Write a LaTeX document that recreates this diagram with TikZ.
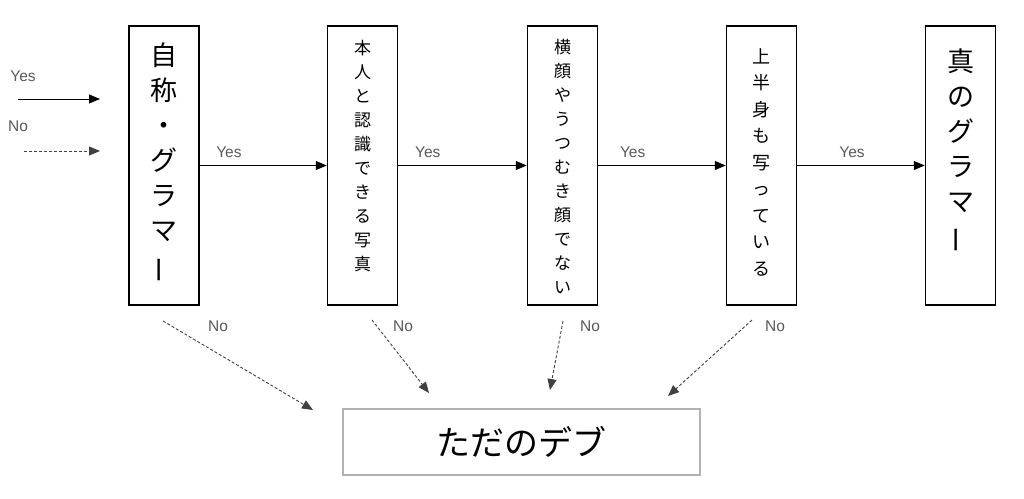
\documentclass[tikz,border=0pt]{standalone}
\usepackage{fontspec}
\setmainfont{Liberation Sans}
\newfontfamily\jp{Noto Sans CJK JP}
\usetikzlibrary{arrows.meta}
\newcommand\vbar{\rotatebox[origin=c]{90}{ー}}
\begin{document}
\begin{tikzpicture}[x=1pt,y=-1pt,
  stepbox/.style={draw=black, line width=1.5pt, minimum width=70pt, minimum height=279pt, inner sep=0pt},
  bigv/.style={align=center, inner sep=0pt, font=\jp\fontsize{27}{35}\selectfont},
  smallv/.style={align=center, inner sep=0pt, font=\jp\fontsize{17}{24}\selectfont},
  midv/.style={align=center, inner sep=0pt, font=\jp\fontsize{18}{26.5}\selectfont},
  lbl/.style={text=black!65, font=\fontsize{15.5}{17}\selectfont, inner sep=0pt},
  yesarrow/.style={draw=black, line width=0.9pt, -{Triangle[length=11pt,width=9pt]}},
  noarrow/.style={draw=black!75, line width=0.9pt, dash pattern=on 3pt off 2pt, -{Triangle[length=11pt,width=9pt]}},
  endbox/.style={draw=black!30, line width=1.5pt, minimum width=357pt, minimum height=66pt, inner sep=0pt}
]
\useasboundingbox (0,0) rectangle (1024,498);

% boxes
\node[stepbox] (b1) at (164,165.5) {};
\node[stepbox] (b2) at (362.5,165.5) {};
\node[stepbox] (b3) at (562.5,165.5) {};
\node[stepbox] (b4) at (761.5,165.5) {};
\node[stepbox] (b5) at (960.5,165.5) {};

% texts
\node[bigv] (t1) at (164,163) {自\\称\\・\\グ\\ラ\\マ\\\vbar};
\node[smallv] (t2) at (362.5,156) {本\\人\\と\\認\\識\\で\\き\\る\\写\\真};
\node[smallv] (t3) at (562.5,166) {横\\顔\\や\\う\\つ\\む\\き\\顔\\で\\な\\い};
\node[midv] (t4) at (761.5,162) {上\\半\\身\\も\\写\\っ\\て\\い\\る};
\node[bigv] (t5) at (960.5,151) {真\\の\\グ\\ラ\\マ\\\vbar};

% yes arrows
\draw[yesarrow] (b1.east) -- node[lbl, pos=0.23, above=7pt] (y1) {Yes} (b2.west);
\draw[yesarrow] (b2.east) -- node[lbl, pos=0.23, above=7pt] (y2) {Yes} (b3.west);
\draw[yesarrow] (b3.east) -- node[lbl, pos=0.27, above=7pt] (y3) {Yes} (b4.west);
\draw[yesarrow] (b4.east) -- node[lbl, pos=0.43, above=7pt] (y4) {Yes} (b5.west);

% legend
\node[lbl] (ly) at (23,76) {Yes};
\node[lbl] (ln) at (18,126) {No};
\coordinate (ya) at (18,99);
\coordinate (yb) at (100,99);
\coordinate (na) at (24,151);
\coordinate (nb) at (100,151);
\draw[yesarrow] (ya) -- (yb);
\draw[noarrow] (na) -- (nb);

% final box
\node[endbox] (fin) at (521.5,442) {\jp\fontsize{34}{40}\selectfont ただのデブ};

% no arrows
\coordinate (s1) at (163,321);
\coordinate (e1) at (313,410);
\coordinate (s2) at (372,320);
\coordinate (e2) at (429,393);
\coordinate (s3) at (563,321);
\coordinate (e3) at (550,390);
\coordinate (s4) at (752,320);
\coordinate (e4) at (668,396);
\draw[noarrow] (s1) -- (e1);
\draw[noarrow] (s2) -- (e2);
\draw[noarrow] (s3) -- (e3);
\draw[noarrow] (s4) -- (e4);
\node[lbl] (n1) at (218,326) {No};
\node[lbl] (n2) at (403,326) {No};
\node[lbl] (n3) at (590,326) {No};
\node[lbl] (n4) at (775,326) {No};
\end{tikzpicture}
\end{document}
